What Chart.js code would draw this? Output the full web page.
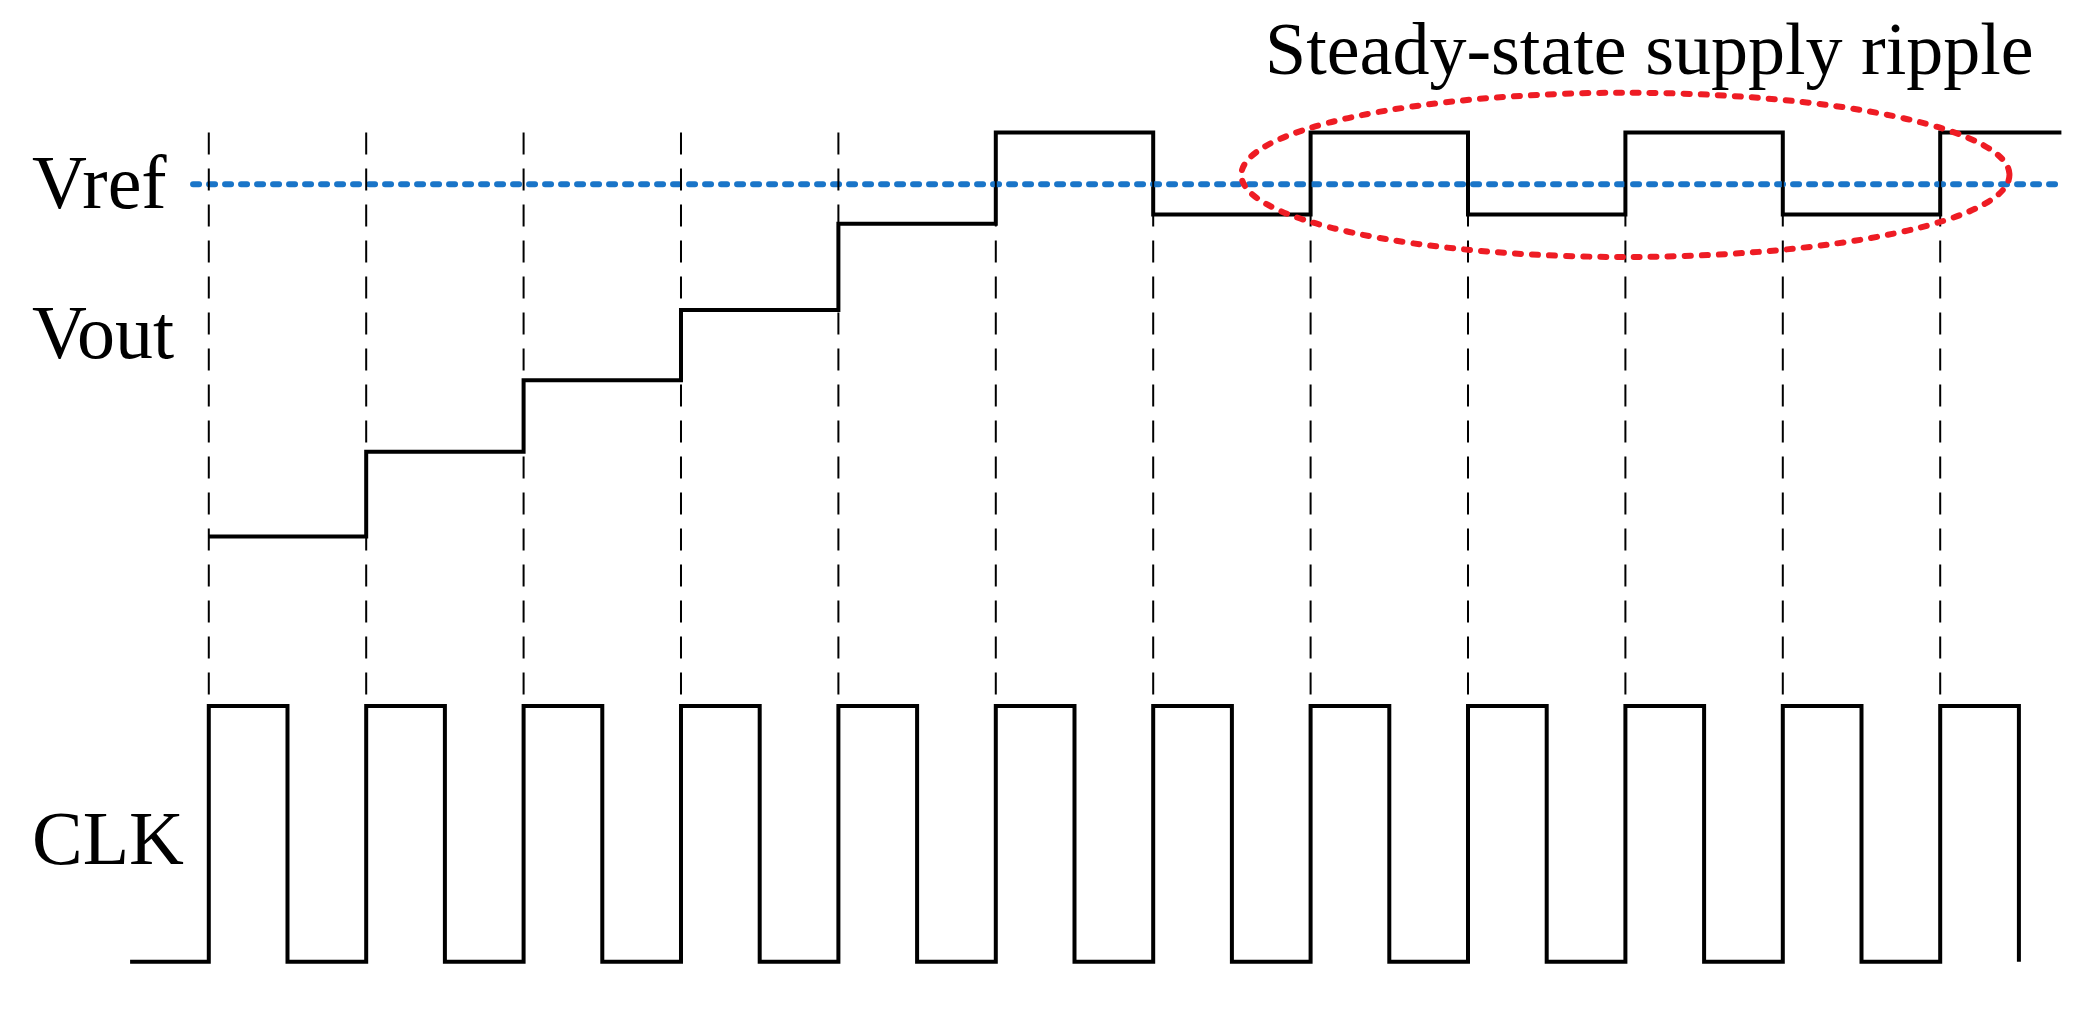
<!DOCTYPE html>
<html>
<head>
<meta charset="utf-8">
<script src="https://cdn.jsdelivr.net/npm/chart.js@4.4.1/dist/chart.umd.min.js"></script>
<style>
  html, body { margin: 0; padding: 0; background: #fff; }
</style>
</head>
<body>
<canvas id="chart" width="2088" height="1020"></canvas>
<script>
// time in clock periods, levels in arbitrary units
var clockEdges = [0, 1, 2, 3, 4, 5, 6, 7, 8, 9, 10, 11];
var voutTimes = [0, 1, 2, 3, 4, 5, 6, 7, 8, 9, 10, 11, 11.77];
var voutLevels = [365, 429, 483, 536, 601, 670, 608, 670, 608, 670, 608, 670, 670];
var vrefLevel = 631;
var vrefRange = [-0.1, 11.77];
var clkHigh = 237, clkLow = 44;
var gridTop = 670, gridBottom = 240;
var ripple = { t: 9.0, level: 638, rt: 2.44, rl: 62 };

var voutData = voutTimes.map(function (t, i) { return { x: t, y: voutLevels[i] }; });

var clkData = [{ x: -0.5, y: clkLow }];
clockEdges.forEach(function (t) {
  clkData.push({ x: t, y: clkHigh });
  clkData.push({ x: t + 0.5, y: clkLow });
});

var datasets = [];
clockEdges.forEach(function (t) {
  datasets.push({
    data: [{ x: t, y: gridTop }, { x: t, y: gridBottom }],
    borderColor: '#000', borderWidth: 2, borderDash: [22, 14],
    pointRadius: 0
  });
});
datasets.push({
  data: [{ x: vrefRange[0], y: vrefLevel }, { x: vrefRange[1], y: vrefLevel }],
  borderColor: '#1a75c8', borderWidth: 6, borderDash: [6, 10], borderCapStyle: 'round',
  pointRadius: 0
});
datasets.push({
  data: voutData, stepped: 'before',
  borderColor: '#000', borderWidth: 4, pointRadius: 0
});
datasets.push({
  data: clkData, stepped: 'before',
  borderColor: '#000', borderWidth: 4, pointRadius: 0
});

var decor = {
  id: 'decor',
  afterDatasetsDraw: function (chart) {
    var ctx = chart.ctx, xs = chart.scales.x, ys = chart.scales.y;
    // ripple ellipse
    var cx = xs.getPixelForValue(ripple.t), cy = ys.getPixelForValue(ripple.level);
    var rx = xs.getPixelForValue(ripple.t + ripple.rt) - cx;
    var ry = cy - ys.getPixelForValue(ripple.level + ripple.rl);
    ctx.save();
    ctx.strokeStyle = '#ee1c24';
    ctx.lineWidth = 6;
    ctx.lineCap = 'round';
    ctx.setLineDash([6, 11]);
    ctx.beginPath();
    ctx.ellipse(cx, cy, rx, ry, 0, 0, Math.PI * 2);
    ctx.stroke();
    ctx.setLineDash([]);
    // labels
    ctx.fillStyle = '#000';
    ctx.font = '76px "Liberation Serif", "Times New Roman", serif';
    ctx.textBaseline = 'middle';
    ctx.textAlign = 'left';
    ctx.fillText('Vref', 32, ys.getPixelForValue(vrefLevel) + 4);
    ctx.fillText('Vout', 32, ys.getPixelForValue(515));
    ctx.fillText('CLK', 32, ys.getPixelForValue(133));
    ctx.font = '74px "Liberation Serif", "Times New Roman", serif';
    ctx.fillText('Steady-state supply ripple', 1265, 55);
    ctx.restore();
  }
};

new Chart(document.getElementById('chart').getContext('2d'), {
  type: 'line',
  data: { datasets: datasets },
  options: {
    responsive: false,
    animation: false,
    devicePixelRatio: 1,
    layout: { padding: 0 },
    plugins: { legend: { display: false }, tooltip: { enabled: false } },
    scales: {
      x: { type: 'linear', min: -1.3265, max: 11.939, display: false },
      y: { type: 'linear', min: 0, max: 770, display: false }
    }
  },
  plugins: [decor]
});
</script>
</body>
</html>
